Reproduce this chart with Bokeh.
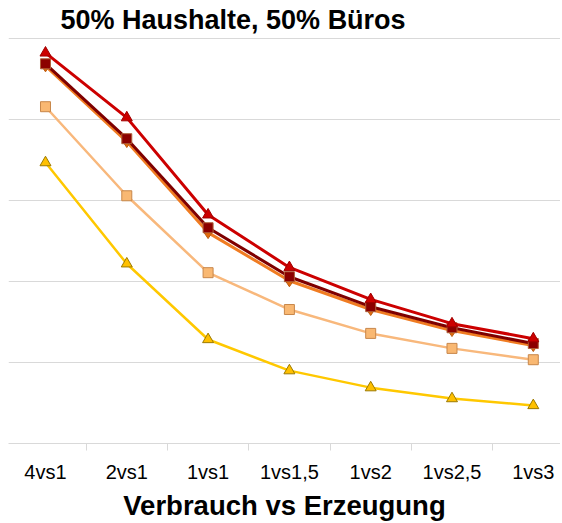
from bokeh.plotting import figure
from bokeh.models import FixedTicker, Range1d
from bokeh.embed import file_html
from bokeh.resources import INLINE

categories = ["4vs1", "2vs1", "1vs1", "1vs1,5", "1vs2", "1vs2,5", "1vs3"]
red_tri = [96.5, 80.5, 56.5, 43.5, 35.6, 29.6, 25.9]
darkred_sq = [93.8, 75.3, 53.3, 41.2, 33.8, 28.6, 24.7]
orange_dia = [93.3, 74.6, 52.1, 40.2, 33.1, 27.9, 24.2]
lightorange_sq = [83.2, 61.2, 42.2, 33.1, 27.2, 23.5, 20.7]
yellow_tri = [69.4, 44.4, 25.7, 18.0, 13.8, 11.1, 9.4]
y_ticks = [0, 20, 40, 60, 80, 100]

xs = list(range(len(categories)))

FRAME_W = 552
x_start = -0.455
x_end = x_start + FRAME_W / 81.3

p = figure(frame_width=FRAME_W, frame_height=406, output_backend="svg", toolbar_location=None,
           x_range=Range1d(x_start, x_end), y_range=Range1d(0, 100.3),
           min_border_left=8, min_border_right=0, min_border_top=0, min_border_bottom=0,
           title="50% Haushalte, 50% Büros")
p.outline_line_color = None
p.background_fill_color = "white"
p.border_fill_color = "white"

p.title.text_font = "Liberation Sans"
p.title.text_font_size = "27px"
p.title.text_font_style = "bold"
p.title.text_color = "#000000"
p.title.align = "left"
p.title.offset = 52
p.title.standoff = 5

p.yaxis.visible = False
p.xgrid.visible = False
p.ygrid.ticker = FixedTicker(ticks=y_ticks)
p.ygrid.grid_line_color = "#d9d9d9"
p.ygrid.grid_line_width = 1

ax = p.xaxis[0]
ax.ticker = FixedTicker(ticks=xs, minor_ticks=[0.5, 1.5, 2.5, 3.5, 4.5, 5.5])
ax.major_label_overrides = {i: c for i, c in enumerate(categories)}
ax.major_tick_line_color = None
ax.major_tick_out = 0
ax.major_tick_in = 0
ax.minor_tick_line_color = "#d9d9d9"
ax.minor_tick_out = 7
ax.minor_tick_in = 0
ax.axis_line_color = "#d9d9d9"
ax.major_label_text_font = "Liberation Sans"
ax.major_label_text_font_size = "20px"
ax.major_label_text_color = "#000000"
ax.major_label_standoff = 10
ax.axis_label = "Verbrauch vs Erzeugung"
ax.axis_label_text_font = "Liberation Sans"
ax.axis_label_text_font_size = "27.5px"
ax.axis_label_text_font_style = "bold"
ax.axis_label_text_color = "#000000"
ax.axis_label_standoff = 4

# yellow triangles
p.line(xs, yellow_tri, line_color="#FFC800", line_width=2.5)
p.scatter(xs, yellow_tri, marker="triangle", size=11, fill_color="#FFC000", line_color="#9C7A00", line_width=1)
# light orange squares
p.line(xs, lightorange_sq, line_color="#F8B87C", line_width=2.5)
p.scatter(xs, lightorange_sq, marker="square", size=10, fill_color="#F9B872", line_color="#C8874A", line_width=1)
# orange diamonds
p.line(xs, orange_dia, line_color="#F07C22", line_width=3)
p.scatter(xs, orange_dia, marker="diamond", size=12, fill_color="#E46C0A", line_color="#B85A10", line_width=1)
# dark red squares
p.line(xs, darkred_sq, line_color="#7F0000", line_width=3)
p.scatter(xs, darkred_sq, marker="square", size=10, fill_color="#8B0000", line_color="#B0603A", line_width=1)
# red triangles
p.line(xs, red_tri, line_color="#CC0000", line_width=3)
p.scatter(xs, red_tri, marker="triangle", size=11, fill_color="#CC0000", line_color="#A00000", line_width=1)

open("out.html", "w").write(file_html(p, INLINE))
